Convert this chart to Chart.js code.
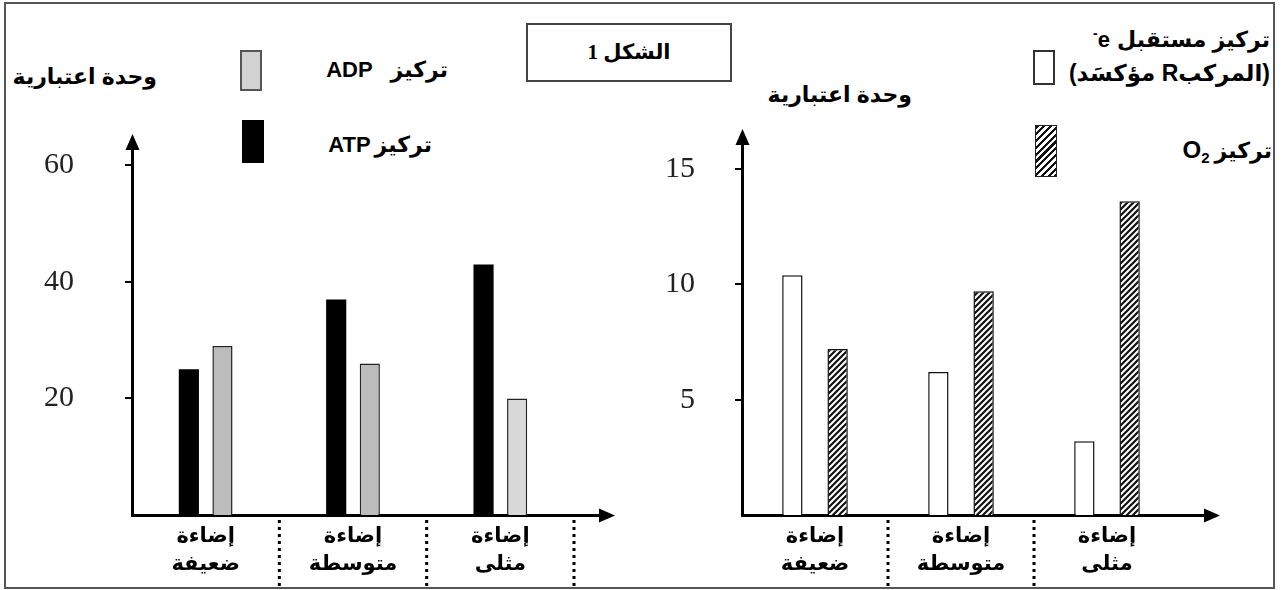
<!DOCTYPE html>
<html lang="ar">
<head>
<meta charset="utf-8">
<title>الشكل 1</title>
<script src="https://cdn.jsdelivr.net/npm/chart.js@4.4.1/dist/chart.umd.min.js"></script>
<style>
  html, body { margin: 0; padding: 0; background: #fff; }
  body {
    width: 1285px; height: 590px; position: relative; overflow: hidden;
    font-family: "Liberation Sans", "DejaVu Sans", sans-serif; font-weight: bold; color: #000;
  }
  .frame { position: absolute; left: 4px; top: 2px; width: 1267px; height: 583px; border: 2px solid #555; }
  canvas { position: absolute; top: 0; }
  #leftChart { left: 0; }
  #rightChart { left: 640px; }
  .txt { position: absolute; white-space: nowrap; font-size: 22px; line-height: 26px; }
  .row { display: flex; direction: ltr; align-items: baseline; }
  .swatch { position: absolute; box-sizing: border-box; }
  .title-box {
    position: absolute; left: 526px; top: 23px; width: 206px; height: 59px; box-sizing: border-box;
    border: 2px solid #444; text-align: center; line-height: 55px;
    font-family: "Liberation Serif", "DejaVu Sans", serif; font-size: 21px;
  }
  sup { font-size: 14px; vertical-align: 9px; line-height: 0; }
  sub { font-size: 15px; vertical-align: -5px; line-height: 0; }
</style>
</head>
<body>
<div class="frame"></div>

<div class="title-box" dir="rtl">الشكل 1</div>

<!-- left panel legend and unit -->
<div class="txt" dir="rtl" style="right:1128px; top:64px;">وحدة اعتبارية</div>
<div class="swatch" style="left:240px; top:50px; width:22px; height:41px; background:#d2d2d2; border:2px solid #555;"></div>
<div class="txt row" style="right:837px; top:57px; gap:18px;"><span>ADP</span><span dir="rtl">تركيز</span></div>
<div class="swatch" style="left:242px; top:120px; width:22px; height:43px; background:#000;"></div>
<div class="txt row" style="right:853px; top:132px; gap:4px;"><span>ATP</span><span dir="rtl">تركيز</span></div>

<!-- right panel legend and unit -->
<div class="txt" dir="rtl" style="right:373px; top:82px;">وحدة اعتبارية</div>
<div class="swatch" style="left:1033px; top:50px; width:22px; height:35px; background:#fff; border:2px solid #333;"></div>
<div class="txt row" style="right:15px; top:27px; gap:7px;"><span><sup>-</sup>e</span><span dir="rtl">تركيز مستقبل</span></div>
<div class="txt" dir="rtl" style="right:15px; top:60px; font-size:23px;">(المركبR مؤكسَد)</div>
<div class="swatch" style="left:1035px; top:125px; width:22px; height:52px; border:1.5px solid #222;
     background:repeating-linear-gradient(135deg, #111 0 2.2px, #fff 2.2px 4.8px);"></div>
<div class="txt row" style="right:13px; top:137px; gap:5px;"><span style="font-size:24px;">O<sub>2</sub></span><span dir="rtl">تركيز</span></div>

<canvas id="leftChart" width="640" height="590"></canvas>
<canvas id="rightChart" width="645" height="590"></canvas>

<script>
// light conditions (same on both panels)
const categories = [['إضاءة', 'ضعيفة'], ['إضاءة', 'متوسطة'], ['إضاءة', 'مثلى']];

// left panel: ATP / ADP concentration
const atpValues = [25, 37, 43];
const adpValues = [29, 26, 20];
const adpColors = ['#bcbcbc', '#bcbcbc', '#d8d8d8'];
const leftTicks = [20, 40, 60];

// right panel: oxidised acceptor R / O2 concentration
const acceptorValues = [10.4, 6.2, 3.2];
const o2Values = [7.2, 9.7, 13.6];
const rightTicks = [5, 10, 15];

const AXIS_W = 3;
// same pixel snapping chart.js uses for the axis borders
const snap = px => Math.round(px - AXIS_W / 2) + AXIS_W / 2;

// arrows on both axes + dotted separators under the categories
const axisDecor = {
  id: 'axisDecor',
  afterDraw(chart, args, opts) {
    const { ctx, chartArea: a, scales: { x } } = chart;
    ctx.save();
    ctx.strokeStyle = '#000';
    ctx.fillStyle = '#000';
    ctx.lineWidth = AXIS_W;

    // x axis runs on past the last category
    const axisY = snap(a.bottom);
    const tipX = a.right + opts.xExtend;
    ctx.beginPath();
    ctx.moveTo(a.right - 10, axisY);
    ctx.lineTo(tipX - 10, axisY);
    ctx.stroke();
    ctx.beginPath();
    ctx.moveTo(tipX, axisY);
    ctx.lineTo(tipX - 16, axisY - 7);
    ctx.lineTo(tipX - 16, axisY + 7);
    ctx.closePath();
    ctx.fill();

    // y arrow head
    const axisX = snap(a.left);
    const tipY = a.top - opts.yExtend;
    ctx.beginPath();
    ctx.moveTo(axisX, a.top + 4);
    ctx.lineTo(axisX, tipY + 10);
    ctx.stroke();
    ctx.beginPath();
    ctx.moveTo(axisX, tipY);
    ctx.lineTo(axisX - 7, tipY + 16);
    ctx.lineTo(axisX + 7, tipY + 16);
    ctx.closePath();
    ctx.fill();

    // dotted lines between the categories
    const n = x.ticks.length;
    const edges = [];
    for (let i = 1; i < n; i++) {
      edges.push((x.getPixelForTick(i - 1) + x.getPixelForTick(i)) / 2);
    }
    if (opts.closeLast) edges.push(a.right);
    ctx.setLineDash([3, 4]);
    edges.forEach(px => {
      ctx.beginPath();
      ctx.moveTo(px, a.bottom + 5);
      ctx.lineTo(px, a.bottom + 72);
      ctx.stroke();
    });
    ctx.restore();
  }
};

function hatchPattern(ctx) {
  const tile = document.createElement('canvas');
  tile.width = 6;
  tile.height = 6;
  const g = tile.getContext('2d');
  g.fillStyle = '#fff';
  g.fillRect(0, 0, 6, 6);
  g.strokeStyle = '#111';
  g.lineWidth = 2.2;
  g.beginPath();
  g.moveTo(0, 6); g.lineTo(6, 0);
  g.moveTo(-3, 3); g.lineTo(3, -3);
  g.moveTo(3, 9); g.lineTo(9, 3);
  g.stroke();
  return ctx.createPattern(tile, 'repeat');
}

function axes(yMax, ticks, yWidth, labelPad) {
  return {
    x: {
      grid: { display: false, drawTicks: false },
      border: { display: true, color: '#000', width: AXIS_W },
      ticks: {
        color: '#000',
        padding: 8,
        maxRotation: 0,
        font: { family: '"Liberation Sans", "DejaVu Sans", sans-serif', size: 21, weight: 'bold', lineHeight: 1.3 }
      },
      afterFit: s => { s.height = 75; }
    },
    y: {
      min: 0,
      max: yMax,
      afterBuildTicks: s => { s.ticks = ticks.map(v => ({ value: v })); },
      afterFit: s => { s.width = yWidth; },
      grid: { drawOnChartArea: false, drawTicks: true, tickLength: 7, color: '#000', lineWidth: 2 },
      border: { display: true, color: '#000', width: AXIS_W },
      ticks: {
        color: '#222',
        padding: labelPad,
        font: { family: '"Liberation Serif", "Times New Roman", serif', size: 30 }
      }
    }
  };
}

Chart.defaults.font.family = '"Liberation Sans", "DejaVu Sans", sans-serif';

new Chart(document.getElementById('leftChart'), {
  type: 'bar',
  data: {
    labels: categories,
    datasets: [{
      label: 'تركيز ATP',
      data: atpValues,
      backgroundColor: '#000',
      borderColor: '#000',
      borderWidth: 0
    }, {
      label: 'تركيز ADP',
      data: adpValues,
      backgroundColor: adpColors,
      borderColor: '#222',
      borderWidth: 1.5
    }]
  },
  options: {
    responsive: false,
    animation: false,
    categoryPercentage: 0.456,
    barPercentage: 0.6,
    layout: { padding: { top: 148, right: 66, bottom: 0, left: 0 } },
    plugins: {
      legend: { display: false },
      tooltip: { enabled: false },
      axisDecor: { xExtend: 41, yExtend: 14, closeLast: true }
    },
    scales: axes(63, leftTicks, 132, 51)
  },
  plugins: [axisDecor]
});

const rightCanvas = document.getElementById('rightChart');

new Chart(rightCanvas, {
  type: 'bar',
  data: {
    labels: categories,
    datasets: [{
      label: 'تركيز مستقبل e- (المركب R مؤكسَد)',
      data: acceptorValues,
      backgroundColor: '#fff',
      borderColor: '#111',
      borderWidth: 1.5
    }, {
      label: 'تركيز O2',
      data: o2Values,
      backgroundColor: hatchPattern(rightCanvas.getContext('2d')),
      borderColor: '#111',
      borderWidth: 1.5
    }]
  },
  options: {
    responsive: false,
    animation: false,
    categoryPercentage: 0.62,
    barPercentage: 0.45,
    layout: { padding: { top: 146, right: 105, bottom: 0, left: 0 } },
    plugins: {
      legend: { display: false },
      tooltip: { enabled: false },
      axisDecor: { xExtend: 40, yExtend: 17, closeLast: false }
    },
    scales: axes(16, rightTicks, 102, 40)
  },
  plugins: [axisDecor]
});
</script>
</body>
</html>
